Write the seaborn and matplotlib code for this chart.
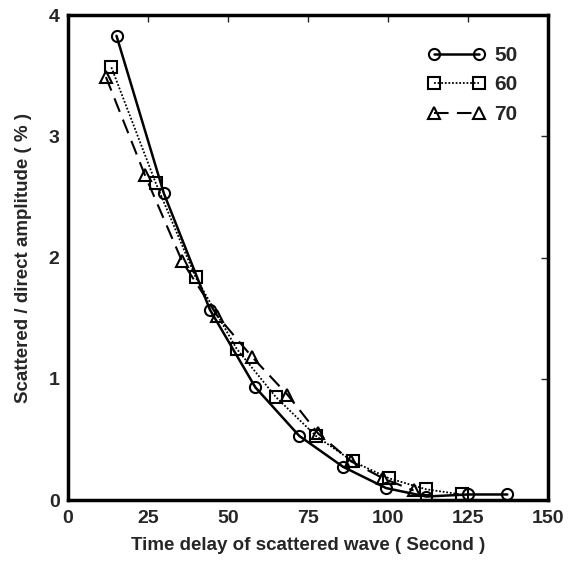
import matplotlib
matplotlib.use('Agg')
import matplotlib.pyplot as plt
import seaborn as sns

# values
x50 = [15.2, 30.0, 44.4, 58.6, 72.3, 86.0, 99.4, 112.0, 125.0, 137.3]
y50 = [3.83, 2.53, 1.57, 0.93, 0.53, 0.275, 0.10, 0.03, 0.047, 0.047]
x60 = [13.6, 27.4, 39.9, 52.7, 65.0, 77.5, 89.0, 100.4, 111.9, 123.0]
y60 = [3.57, 2.62, 1.84, 1.25, 0.85, 0.53, 0.32, 0.18, 0.09, 0.047]
x70 = [11.9, 24.1, 35.7, 46.7, 57.6, 68.6, 78.2, 88.5, 98.5, 108.0]
y70 = [3.49, 2.68, 1.97, 1.52, 1.18, 0.87, 0.55, 0.32, 0.18, 0.08]
labels = ['50', '60', '70']
xticks = [0, 25, 50, 75, 100, 125, 150]
yticks = [0, 1, 2, 3, 4]

sns.set_style('white')
plt.rcParams['font.family'] = ['Liberation Sans', 'DejaVu Sans']
plt.rcParams['font.weight'] = 'bold'

fig = plt.figure(figsize=(5.75, 5.62), dpi=100)
ax = fig.add_axes([0.118, 0.110, 0.835, 0.863])

common = dict(color='black', markerfacecolor='none', markeredgecolor='black',
              markeredgewidth=1.5, markersize=8, ax=ax)
sns.lineplot(x=x50, y=y50, marker='o', linestyle='-', linewidth=1.8, label=labels[0], **common)
sns.lineplot(x=x60, y=y60, marker='s', linestyle=(0, (1, 1)), linewidth=1.3, label=labels[1], **common)
sns.lineplot(x=x70, y=y70, marker='^', linestyle=(0, (7, 4)), linewidth=1.5, label=labels[2], **common)

ax.set_xlim(0, 150)
ax.set_ylim(0, 4)
ax.set_xticks(xticks)
ax.set_yticks(yticks)
ax.tick_params(direction='in', top=True, right=True, length=5, width=1,
               labelsize=14, pad=7)
ax.tick_params(axis='y', pad=6)
for lab in ax.get_xticklabels() + ax.get_yticklabels():
    lab.set_fontweight('bold')
for sp in ax.spines.values():
    sp.set_linewidth(2.5)
    sp.set_color('black')

ax.set_xlabel('Time delay of scattered wave ( Second )', fontsize=13.5, fontweight='bold', labelpad=7)
ax.set_ylabel('Scattered / direct amplitude ( % )', fontsize=13.5, fontweight='bold', labelpad=12)

leg = ax.legend(loc='upper right', frameon=False, numpoints=2, handlelength=2.8,
                fontsize=15, bbox_to_anchor=(0.975, 0.975), labelspacing=0.5, handletextpad=0.4)
for t in leg.get_texts():
    t.set_fontweight('bold')

fig.savefig('out.png', dpi=100)
